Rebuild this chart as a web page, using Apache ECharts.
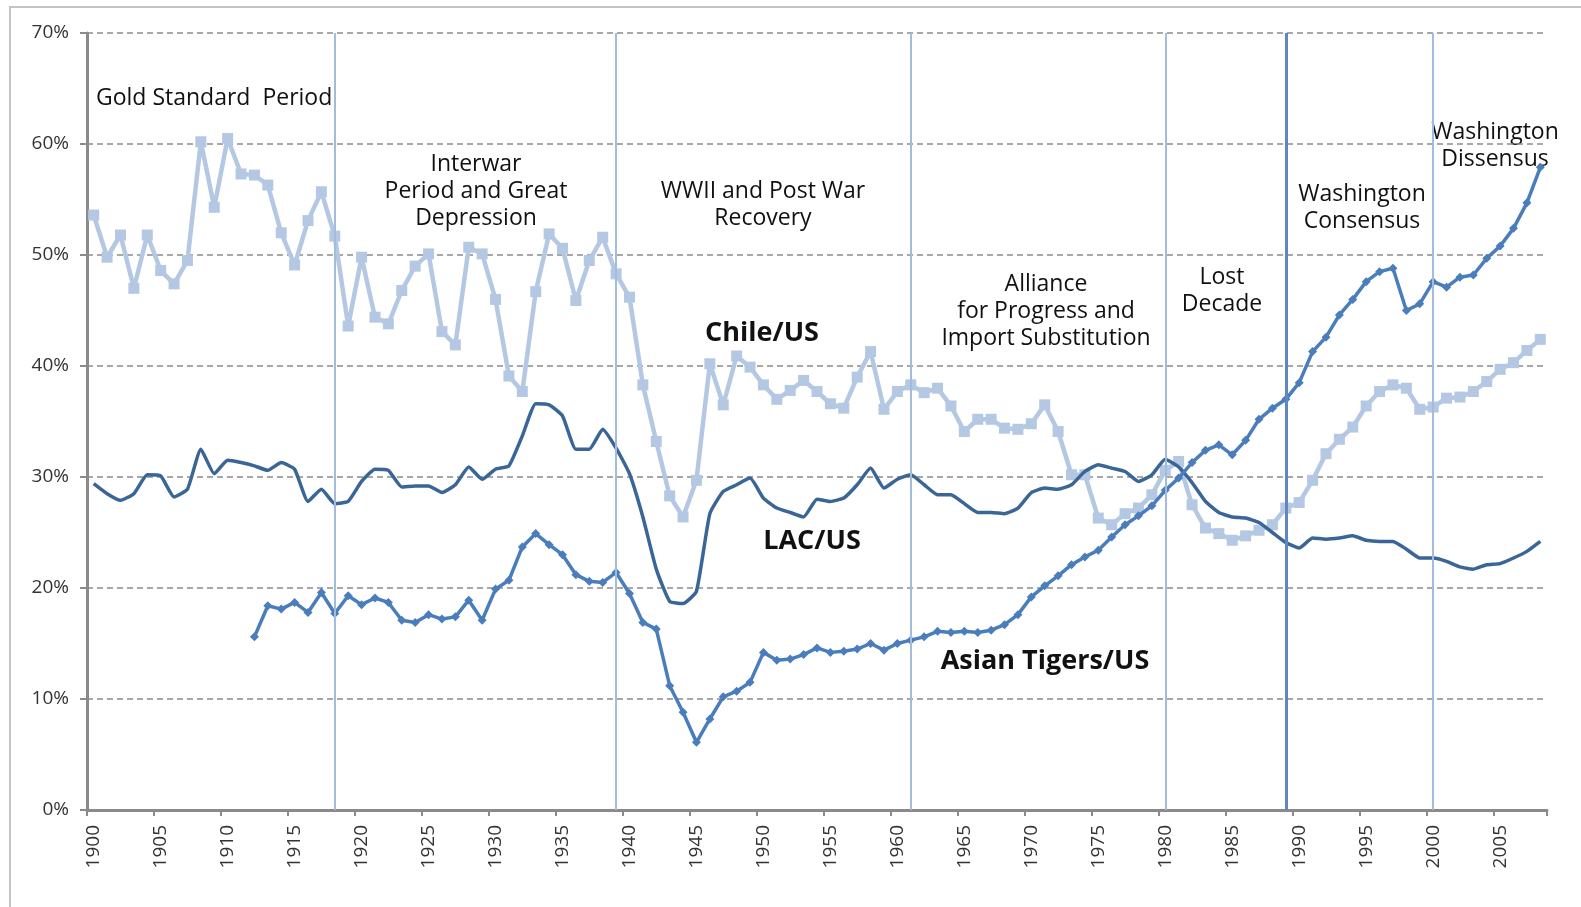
<!DOCTYPE html>
<html>
<head>
<meta charset="utf-8">
<title>Chile, LAC and Asian Tigers relative to US</title>
<script src="https://cdn.jsdelivr.net/npm/echarts@6/dist/echarts.min.js"></script>
<style>
  html, body { margin: 0; padding: 0; background: #fff; }
  #chart { width: 1581px; height: 907px; }
</style>
</head>
<body>
<div id="chart"></div>
<script>
// years on the category axis
var years = [];
for (var y = 1900; y <= 2008; y++) years.push(String(y));

// Chile / US, 1900-2008
var chile = [
    53.6, 49.8, 51.8, 47.0, 51.8,   // 1900
    48.6, 47.4, 49.5, 60.2, 54.3,   // 1905
    60.5, 57.3, 57.2, 56.3, 52.0,   // 1910
    49.1, 53.1, 55.7, 51.7, 43.6,   // 1915
    49.8, 44.4, 43.8, 46.8, 49.0,   // 1920
    50.1, 43.1, 41.9, 50.7, 50.1,   // 1925
    46.0, 39.1, 37.7, 46.7, 51.9,   // 1930
    50.6, 45.9, 49.5, 51.6, 48.3,   // 1935
    46.2, 38.3, 33.2, 28.3, 26.4,   // 1940
    29.7, 40.2, 36.5, 40.9, 39.9,   // 1945
    38.3, 37.0, 37.8, 38.7, 37.7,   // 1950
    36.6, 36.2, 39.0, 41.3, 36.1,   // 1955
    37.7, 38.3, 37.6, 38.0, 36.4,   // 1960
    34.1, 35.2, 35.2, 34.4, 34.3,   // 1965
    34.8, 36.5, 34.1, 30.2, 30.2,   // 1970
    26.3, 25.7, 26.7, 27.2, 28.4,   // 1975
    30.6, 31.4, 27.5, 25.4, 24.9,   // 1980
    24.3, 24.7, 25.2, 25.7, 27.2,   // 1985
    27.7, 29.7, 32.1, 33.4, 34.5,   // 1990
    36.4, 37.7, 38.3, 38.0, 36.1,   // 1995
    36.3, 37.1, 37.2, 37.7, 38.6,   // 2000
    39.7, 40.3, 41.4, 42.4          // 2005
];

// LAC / US, 1900-2008
var lac = [
    29.4, 28.5, 27.9, 28.5, 30.2,   // 1900
    30.1, 28.2, 28.9, 32.5, 30.3,   // 1905
    31.5, 31.3, 31.0, 30.6, 31.3,   // 1910
    30.7, 27.8, 28.9, 27.6, 27.8,   // 1915
    29.6, 30.7, 30.6, 29.1, 29.2,   // 1920
    29.2, 28.6, 29.3, 30.9, 29.8,   // 1925
    30.7, 31.0, 33.7, 36.6, 36.5,   // 1930
    35.5, 32.5, 32.5, 34.3, 32.6,   // 1935
    30.3, 26.4, 21.7, 18.8, 18.6,   // 1940
    19.7, 26.7, 28.7, 29.3, 29.9,   // 1945
    28.1, 27.2, 26.8, 26.4, 28.0,   // 1950
    27.8, 28.1, 29.3, 30.8, 29.0,   // 1955
    29.8, 30.2, 29.3, 28.4, 28.4,   // 1960
    27.6, 26.8, 26.8, 26.7, 27.2,   // 1965
    28.6, 29.0, 28.9, 29.3, 30.5,   // 1970
    31.1, 30.8, 30.5, 29.6, 30.2,   // 1975
    31.6, 30.9, 29.5, 27.8, 26.8,   // 1980
    26.4, 26.3, 25.9, 25.0, 24.1,   // 1985
    23.6, 24.5, 24.4, 24.5, 24.7,   // 1990
    24.3, 24.2, 24.2, 23.5, 22.7,   // 1995
    22.7, 22.4, 21.9, 21.7, 22.1,   // 2000
    22.2, 22.7, 23.3, 24.2          // 2005
];

// Asian Tigers / US, series starts in 1912
var asia = [
    null, null, null, null, null,   // 1900
    null, null, null, null, null,   // 1905
    null, null, 15.6, 18.4, 18.1,   // 1910
    18.7, 17.8, 19.6, 17.7, 19.3,   // 1915
    18.5, 19.1, 18.7, 17.1, 16.9,   // 1920
    17.6, 17.2, 17.4, 18.9, 17.1,   // 1925
    19.9, 20.7, 23.7, 24.9, 23.9,   // 1930
    23.0, 21.2, 20.6, 20.5, 21.4,   // 1935
    19.5, 16.9, 16.3, 11.2, 8.8,    // 1940
    6.1, 8.2, 10.2, 10.7, 11.5,     // 1945
    14.2, 13.5, 13.6, 14.0, 14.6,   // 1950
    14.2, 14.3, 14.5, 15.0, 14.4,   // 1955
    15.0, 15.3, 15.6, 16.1, 16.0,   // 1960
    16.1, 16.0, 16.2, 16.7, 17.6,   // 1965
    19.2, 20.2, 21.1, 22.1, 22.8,   // 1970
    23.4, 24.6, 25.7, 26.5, 27.4,   // 1975
    28.8, 29.9, 31.3, 32.4, 32.9,   // 1980
    32.0, 33.3, 35.2, 36.2, 37.0,   // 1985
    38.5, 41.3, 42.6, 44.6, 46.0,   // 1990
    47.6, 48.5, 48.8, 45.0, 45.6,   // 1995
    47.6, 47.1, 48.0, 48.2, 49.7,   // 2000
    50.8, 52.4, 54.7, 57.9          // 2005
];

// period boundaries (vertical lines)
var periodYears = ['1918', '1939', '1961', '1980', '2000'];
var strongYear = '1989';

// text notes: label, centre x, centre y of first line
var notes = [
    ['Interwar\nPeriod and Great\nDepression', 476, 164],
    ['WWII and Post War\nRecovery', 763, 191],
    ['Alliance\nfor Progress and\nImport Substitution', 1046, 284],
    ['Lost\nDecade', 1222, 277],
    ['Washington\nConsensus', 1362, 194],
    ['Washington\nDissensus', 1495, 132]
];
var seriesNames = [
    ['Chile/US', 762, 333],
    ['LAC/US', 812, 541],
    ['Asian Tigers/US', 1045, 661]
];

var noteFont = '23px "Open Sans"';
var lineH = 27;
var graphics = [{
    type: 'rect',
    z: -1,
    shape: { x: 10, y: 7, width: 1700, height: 1000 },
    style: { fill: 'none', stroke: '#c4c4c4', lineWidth: 2 }
}, {
    type: 'text',
    x: 96, y: 98,
    style: { text: 'Gold Standard  Period', font: noteFont, fill: '#111', verticalAlign: 'middle' }
}];
notes.forEach(function (n) {
    graphics.push({
        type: 'text',
        x: n[1], y: n[2] - lineH / 2,
        style: {
            text: n[0], font: noteFont, fill: '#111',
            align: 'center', verticalAlign: 'top', lineHeight: lineH
        }
    });
});
seriesNames.forEach(function (n) {
    graphics.push({
        type: 'text',
        x: n[1], y: n[2],
        style: {
            text: n[0], font: 'bold 27px "Open Sans"', fill: '#111',
            align: 'center', verticalAlign: 'middle'
        }
    });
});

var markData = periodYears.map(function (v) {
    return { xAxis: v };
});
markData.push({ xAxis: strongYear, lineStyle: { color: '#5f87bf', width: 3 } });

var chart = echarts.init(document.getElementById('chart'));
var option = {
    animation: false,
    backgroundColor: '#fff',
    grid: { left: 87, right: 34, top: 33, bottom: 97, containLabel: false },
    xAxis: {
        type: 'category',
        data: years,
        boundaryGap: true,
        axisLine: { lineStyle: { color: '#8a8a8a', width: 3 } },
        axisTick: { show: true, interval: 4, length: 6, lineStyle: { color: '#8a8a8a', width: 2 } },
        axisLabel: {
            interval: 4, rotate: 90, margin: 15,
            fontFamily: 'Open Sans', fontSize: 19, color: '#333'
        },
        splitLine: { show: false }
    },
    yAxis: {
        type: 'value',
        min: 0, max: 70, interval: 10,
        axisLine: { show: true, lineStyle: { color: '#8a8a8a', width: 3 } },
        axisTick: { show: true, length: 7, lineStyle: { color: '#8a8a8a', width: 2 } },
        axisLabel: {
            formatter: '{value}%', margin: 18,
            fontFamily: 'Open Sans', fontSize: 19, color: '#333'
        },
        splitLine: { lineStyle: { color: '#8c8c8c', width: 1.5, type: [6, 4] } }
    },
    graphic: graphics,
    series: [{
        name: 'Chile/US',
        type: 'line',
        data: chile,
        symbol: 'rect',
        symbolSize: 11,
        showAllSymbol: true,
        lineStyle: { color: '#b5c8e3', width: 4.5 },
        itemStyle: { color: '#b5c8e3' },
        markLine: {
            silent: true,
            symbol: 'none',
            label: { show: false },
            lineStyle: { color: '#a3bcdd', width: 2, type: 'solid' },
            data: markData
        },
        z: 2
    }, {
        name: 'LAC/US',
        type: 'line',
        data: lac,
        symbol: 'none',
        smooth: 0.15,
        lineStyle: { color: '#3a6597', width: 3.5 },
        z: 3
    }, {
        name: 'Asian Tigers/US',
        type: 'line',
        data: asia,
        symbol: 'diamond',
        symbolSize: 9,
        showAllSymbol: true,
        lineStyle: { color: '#4a7dbb', width: 3.5 },
        itemStyle: { color: '#4a7dbb' },
        z: 4
    }]
};
chart.setOption(option);
</script>
</body>
</html>
